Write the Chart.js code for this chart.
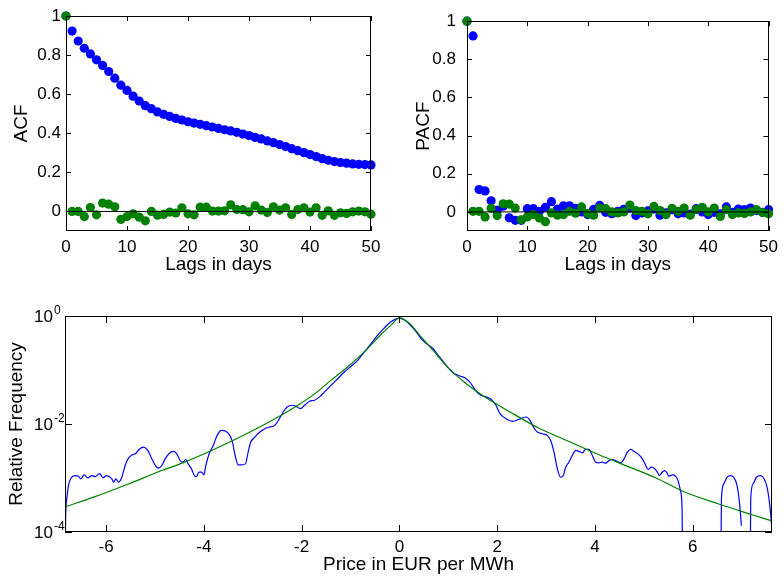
<!DOCTYPE html>
<html>
<head>
<meta charset="utf-8">
<script src="https://cdn.jsdelivr.net/npm/chart.js@4/dist/chart.umd.min.js"></script>
<style>
  html, body { margin: 0; padding: 0; background: #fff; }
  #wrap { position: relative; width: 784px; height: 580px; }
  #wrap canvas { position: absolute; left: 0; top: 0; }
</style>
</head>
<body>
<div id="wrap">
  <canvas id="acf" width="784" height="580"></canvas>
  <canvas id="pacf" width="784" height="580"></canvas>
  <canvas id="dens" width="784" height="580"></canvas>
</div>
<script>
// ---- lags (days) ----
const lags = [0,1,2,3,4,5,6,7,8,9,10,11,12,13,14,15,16,17,18,19,20,21,22,23,24,25,
  26,27,28,29,30,31,32,33,34,35,36,37,38,39,40,41,42,43,44,45,46,47,48,49,50];

// ACF of the prices (blue) and of the filtered residuals (green)
const acfPrice = [1, 0.923, 0.872, 0.835, 0.806, 0.776, 0.747, 0.716, 0.682, 0.646, 0.619,
  0.590, 0.565, 0.541, 0.526, 0.509, 0.497, 0.486, 0.476, 0.468, 0.459, 0.452, 0.446, 0.439,
  0.432, 0.425, 0.418, 0.412, 0.405, 0.396, 0.388, 0.379, 0.371, 0.361, 0.352, 0.342, 0.332,
  0.321, 0.311, 0.301, 0.291, 0.281, 0.270, 0.262, 0.255, 0.250, 0.247, 0.243, 0.241, 0.240, 0.238];
const acfResid = [1, 0.0, 0.0, -0.026, 0.02, -0.017, 0.043, 0.037, 0.024, -0.041, -0.026,
  -0.012, -0.029, -0.048, 0.0, -0.019, -0.015, -0.003, -0.008, 0.019, -0.012, -0.017, 0.022,
  0.022, 0.002, 0.002, 0.003, 0.034, 0.01, 0.009, -0.002, 0.029, 0.007, -0.005, 0.024, 0.007,
  0.019, -0.015, 0.01, 0.019, -0.003, 0.019, -0.02, 0.003, -0.02, -0.007, -0.01, -0.002,
  0.002, -0.002, -0.014];

// PACF of the prices (blue) and of the filtered residuals (green)
const pacfPrice = [1, 0.923, 0.117, 0.11, 0.058, 0.008, 0.03, -0.031, -0.044, -0.044, 0.017,
  0.017, 0.003, 0.024, 0.054, 0.015, 0.032, 0.032, 0.019, 0.0, -0.014, 0.014, 0.034, -0.002,
  -0.009, 0.003, 0.014, 0.02, -0.019, -0.005, 0.005, 0.015, -0.017, -0.005, 0.012, -0.01,
  -0.005, -0.012, 0.017, 0.0, -0.014, -0.002, -0.01, 0.026, -0.002, 0.015, 0.012, 0.02,
  0.007, -0.002, 0.012];
const pacfResid = [1, 0.003, 0.003, -0.026, 0.019, -0.019, 0.043, 0.041, 0.02, -0.041, -0.026,
  -0.014, -0.032, -0.051, -0.005, -0.017, -0.014, 0.003, -0.007, 0.026, -0.008, -0.017, 0.02,
  0.017, 0.0, -0.005, 0.0, 0.036, 0.007, 0.003, -0.01, 0.029, 0.007, -0.014, 0.019, 0.003,
  0.02, -0.017, 0.012, 0.024, 0.0, 0.02, -0.024, 0.012, -0.014, -0.005, -0.008, 0.0, 0.012,
  -0.003, -0.01];

const corrTicks = [0, 0.2, 0.4, 0.6, 0.8, 1];
const corrTickLabels = ['0', '0.2', '0.4', '0.6', '0.8', '1'];
const lagTicks = [0, 10, 20, 30, 40, 50];
const zeroLine = [0, 0];
const zeroLineLags = [0, 50];

// ---- price-change density: kernel estimate (blue) and fitted density (green), log10 ----
const kdeX = [-6.84, -6.83, -6.804, -6.77, -6.715, -6.633, -6.565, -6.517, -6.449, -6.374,
  -6.293, -6.224, -6.129, -6.061, -5.998, -5.937, -5.883, -5.842, -5.8, -5.746, -5.678, -5.61,
  -5.542, -5.46, -5.392, -5.324, -5.235, -5.146, -5.065, -4.983, -4.929, -4.86, -4.792, -4.71,
  -4.621, -4.553, -4.485, -4.43, -4.369, -4.321, -4.253, -4.185, -4.151, -4.103, -4.042, -4.0,
  -3.96, -3.891, -3.809, -3.728, -3.64, -3.551, -3.469, -3.415, -3.36, -3.299, -3.231, -3.149,
  -3.094, -3.04, -2.958, -2.855, -2.753, -2.651, -2.549, -2.474, -2.378, -2.296, -2.187, -2.092,
  -2.022, -1.94, -1.838, -1.736, -1.634, -1.531, -1.395, -1.258, -1.122, -0.985, -0.849, -0.713,
  -0.576, -0.44, -0.303, -0.167, -0.065, 0.004, 0.093, 0.208, 0.31, 0.44, 0.542, 0.679, 0.815,
  0.952, 1.088, 1.224, 1.361, 1.463, 1.565, 1.668, 1.77, 1.872, 1.974, 2.056, 2.179, 2.315,
  2.452, 2.588, 2.67, 2.738, 2.82, 2.923, 3.025, 3.093, 3.161, 3.23, 3.298, 3.352, 3.4, 3.468,
  3.536, 3.605, 3.673, 3.741, 3.809, 3.877, 3.946, 4.014, 4.082, 4.15, 4.219, 4.287, 4.355,
  4.423, 4.526, 4.594, 4.662, 4.73, 4.798, 4.901, 4.969, 5.037, 5.085, 5.153, 5.221, 5.269,
  5.317, 5.371, 5.426, 5.474, 5.508, 5.542, 5.589, 5.644, 5.699, 5.747, 5.781, 5.805,
  6.2,
  6.56, 6.586, 6.633, 6.701, 6.769, 6.838, 6.906, 6.954, 6.995,
  7.08,
  7.165, 7.185, 7.233, 7.301, 7.384, 7.452, 7.52, 7.568, 7.602, 7.616];
const kdeLog10 = [-6, -3.9, -3.389, -3.141, -2.998, -2.955, -2.967, -3.017, -2.943, -2.998,
  -2.955, -2.974, -2.918, -2.998, -2.955, -2.974, -3.017, -3.079, -3.017, -3.079, -2.986, -2.769,
  -2.633, -2.57, -2.546, -2.471, -2.428, -2.49, -2.645, -2.781, -2.818, -2.769, -2.645, -2.546,
  -2.508, -2.552, -2.676, -2.707, -2.657, -2.738, -2.831, -2.967, -2.974, -2.893, -2.893, -2.943,
  -2.769, -2.552, -2.397, -2.211, -2.118, -2.136, -2.211, -2.335, -2.583, -2.757, -2.757, -2.738,
  -2.521, -2.335, -2.242, -2.149, -2.087, -2.056, -2.025, -1.932, -1.777, -1.684, -1.653, -1.684,
  -1.715, -1.653, -1.578, -1.56, -1.498, -1.405, -1.28, -1.157, -1.033, -0.927, -0.816, -0.66,
  -0.505, -0.35, -0.214, -0.102, -0.053, -0.04, -0.071, -0.152, -0.257, -0.412, -0.505, -0.598,
  -0.753, -0.909, -1.045, -1.107, -1.157, -1.25, -1.392, -1.467, -1.498, -1.541, -1.653, -1.808,
  -1.901, -1.95, -1.913, -1.87, -1.932, -2.056, -2.149, -2.18, -2.211, -2.304, -2.521, -2.831,
  -2.986, -2.955, -2.8, -2.707, -2.583, -2.49, -2.508, -2.533, -2.471, -2.471, -2.583, -2.707,
  -2.719, -2.707, -2.726, -2.676, -2.657, -2.676, -2.719, -2.645, -2.521, -2.471, -2.508, -2.571,
  -2.645, -2.769, -2.843, -2.8, -2.83, -2.881, -2.955, -2.893, -2.862, -2.905, -2.967, -2.955,
  -2.943, -2.967, -3.048, -3.234, -3.575, -6,
  null,
  -6, -3.389, -3.11, -2.986, -2.955, -2.986, -3.141, -3.451, -3.885,
  null,
  -6, -3.389, -3.11, -2.986, -2.955, -3.005, -3.172, -3.451, -3.762, -3.948];

const fitX = [-6.84, -6.224, -5.542, -4.86, -4.43, -3.809, -3.126, -2.444, -2.077, -1.736,
  -1.395, -1.054, -0.713, -0.372, -0.167, 0.004, 0.208, 0.42, 0.679, 1.02, 1.361, 1.702, 2.043,
  2.384, 2.834, 3.434, 4.116, 4.798, 5.248, 5.849, 6.531, 7.213, 7.62];
const fitLog10 = [-3.535, -3.346, -3.11, -2.862, -2.719, -2.477, -2.18, -1.851, -1.653, -1.442,
  -1.188, -0.94, -0.66, -0.338, -0.164, -0.035, -0.14, -0.363, -0.629, -0.98, -1.25, -1.47,
  -1.66, -1.84, -2.07, -2.31, -2.583, -2.831, -3.0, -3.265, -3.482, -3.68, -3.795];

const priceTicks = [-6, -4, -2, 0, 2, 4, 6];
const priceTickLabels = ['-6', '-4', '-2', '0', '2', '4', '6'];
const freqTicks = [1e-4, 1e-2, 1];
const freqTickExponents = ['-4', '-2', '0'];

// ---- styling ----
const FONT = '"Liberation Sans", Arial, Helvetica, sans-serif';
const BLUE = '#0000ff';
const GREEN = '#008000';
Chart.defaults.font.family = FONT;
Chart.defaults.color = '#000';

// Box around the axes with inward tick marks on all four sides
const frameAndTicks = {
  id: 'frameAndTicks',
  afterDatasetsDraw(chart, args, opts) {
    const { ctx, chartArea: a, scales: { x, y } } = chart;
    const L = opts.tickLen || 5;
    ctx.save();
    ctx.strokeStyle = '#000';
    ctx.lineWidth = 1;
    ctx.beginPath();
    x.ticks.forEach(t => {
      const px = Math.round(x.getPixelForValue(t.value)) + 0.5;
      ctx.moveTo(px, a.bottom); ctx.lineTo(px, a.bottom - L);
      ctx.moveTo(px, a.top); ctx.lineTo(px, a.top + L);
    });
    y.ticks.forEach(t => {
      const py = Math.round(y.getPixelForValue(t.value)) + 0.5;
      ctx.moveTo(a.left, py); ctx.lineTo(a.left + L, py);
      ctx.moveTo(a.right, py); ctx.lineTo(a.right - L, py);
    });
    ctx.stroke();
    ctx.strokeRect(Math.round(a.left) + 0.5, Math.round(a.top) + 0.5,
      Math.round(a.right - a.left) - 1, Math.round(a.bottom - a.top) - 1);
    ctx.restore();
  }
};

// "10" with a raised exponent for the log axis
const powerLabels = {
  id: 'powerLabels',
  afterDraw(chart) {
    const { ctx, chartArea: a, scales: { y } } = chart;
    ctx.save();
    ctx.fillStyle = '#000';
    ctx.textBaseline = 'middle';
    freqTicks.forEach((v, i) => {
      const py = y.getPixelForValue(v);
      ctx.font = '17px ' + FONT;
      ctx.textAlign = 'right';
      ctx.fillText('10', a.left - 12, py + 1);
      ctx.font = '12px ' + FONT;
      ctx.textAlign = 'left';
      ctx.fillText(freqTickExponents[i], a.left - 11, py - 5);
    });
    ctx.restore();
  }
};

function pairs(xs, ys) {
  return xs.map((x, i) => ({ x: x, y: ys[i] }));
}

function corrChart(id, title, blueVals, greenVals, pad, yWidth, yTickPad, yTitlePad) {
  return new Chart(document.getElementById(id), {
    type: 'scatter',
    data: {
      datasets: [
        {
          type: 'line', data: pairs(zeroLineLags, zeroLine), borderColor: '#000',
          borderWidth: 1, pointRadius: 0, order: -1
        },
        {
          data: pairs(lags, greenVals), backgroundColor: GREEN, pointRadius: 4.6,
          pointBorderWidth: 0, order: 0, clip: false
        },
        {
          data: pairs(lags, blueVals), backgroundColor: BLUE, pointRadius: 4.6,
          pointBorderWidth: 0, order: 1, clip: false
        }
      ]
    },
    options: {
      responsive: false, animation: false, devicePixelRatio: 1, events: [],
      layout: { padding: pad },
      plugins: { legend: { display: false }, tooltip: { enabled: false },
        frameAndTicks: { tickLen: 5 } },
      scales: {
        x: {
          type: 'linear', min: 0, max: 50,
          afterBuildTicks: s => { s.ticks = lagTicks.map(v => ({ value: v })); },
          afterFit: s => { s.height = 60; },
          grid: { display: false, drawTicks: false }, border: { display: false },
          ticks: { font: { size: 17 }, padding: 6, color: '#000',
            callback: (v, i) => String(lagTicks[i]) },
          title: { display: true, text: 'Lags in days', font: { size: 19 },
            padding: { top: 0, bottom: 15 }, color: '#000' }
        },
        y: {
          type: 'linear', min: -0.1, max: 1,
          afterBuildTicks: s => { s.ticks = corrTicks.map(v => ({ value: v })); },
          afterFit: s => { s.width = yWidth; },
          grid: { display: false, drawTicks: false }, border: { display: false },
          ticks: { font: { size: 17 }, padding: yTickPad, color: '#000',
            callback: (v, i) => corrTickLabels[i] },
          title: { display: true, text: title, font: { size: 19 },
            padding: { top: yTitlePad, bottom: 0 }, color: '#000' }
        }
      }
    },
    plugins: [frameAndTicks]
  });
}

corrChart('acf', 'ACF', acfPrice, acfResid,
  { left: 0, top: 16, right: 413, bottom: 289 }, 66, 5, 10.6);
corrChart('pacf', 'PACF', pacfPrice, pacfResid,
  { left: 392, top: 16, right: 12, bottom: 289 }, 75, 11, 20.3);

new Chart(document.getElementById('dens'), {
  type: 'line',
  data: {
    datasets: [
      {
        data: fitX.map((x, i) => ({ x: x, y: Math.pow(10, fitLog10[i]) })),
        borderColor: GREEN, borderWidth: 1.2, pointRadius: 0, fill: false,
        cubicInterpolationMode: 'monotone', order: 0
      },
      {
        data: kdeX.map((x, i) => ({ x: x, y: kdeLog10[i] === null ? null : Math.pow(10, kdeLog10[i]) })),
        borderColor: BLUE, borderWidth: 1.2, pointRadius: 0, fill: false, spanGaps: false,
        cubicInterpolationMode: 'monotone', order: 1
      }
    ]
  },
  options: {
    responsive: false, animation: false, devicePixelRatio: 1, events: [],
    layout: { padding: { left: 0, top: 316, right: 12, bottom: 0 } },
    plugins: { legend: { display: false }, tooltip: { enabled: false },
      frameAndTicks: { tickLen: 7 } },
    scales: {
      x: {
        type: 'linear', min: -6.84, max: 7.62,
        afterBuildTicks: s => { s.ticks = priceTicks.map(v => ({ value: v })); },
        afterFit: s => { s.height = 48; },
        grid: { display: false, drawTicks: false }, border: { display: false },
        ticks: { font: { size: 17 }, padding: 5, color: '#000',
          callback: (v, i) => priceTickLabels[i] },
        title: { display: true, text: 'Price in EUR per MWh', font: { size: 19 },
          padding: { top: 0, bottom: 4 }, color: '#000' }
      },
      y: {
        type: 'logarithmic', min: 1e-4, max: 1,
        afterBuildTicks: s => { s.ticks = freqTicks.map(v => ({ value: v })); },
        afterFit: s => { s.width = 65; },
        grid: { display: false, drawTicks: false }, border: { display: false },
        ticks: { display: false },
        title: { display: true, text: 'Relative Frequency', font: { size: 19 },
          padding: { top: 5.3, bottom: 0 }, color: '#000' }
      }
    }
  },
  plugins: [frameAndTicks, powerLabels]
});
</script>
</body>
</html>
